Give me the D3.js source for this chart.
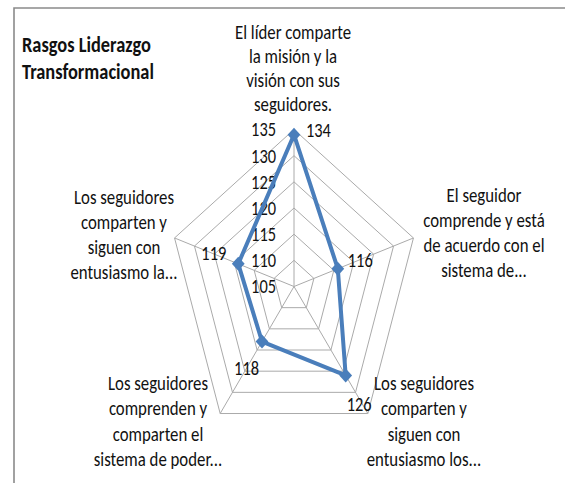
<!DOCTYPE html>
<html>
<head>
<meta charset="utf-8">
<script src="https://cdn.jsdelivr.net/npm/d3@7"></script>
<style>
  body { margin: 0; background: #fff; }
  svg text { font-family: Carlito, Lato, "Open Sans", sans-serif; fill: #111; }
</style>
</head>
<body>
<div id="chart"></div>
<script>
// Données
const categories = [
  ["El líder comparte", "la misión y la", "visión con sus", "seguidores."],
  ["El seguidor", "comprende y está", "de acuerdo con el", "sistema de..."],
  ["Los seguidores", "comparten y", "siguen con", "entusiasmo los..."],
  ["Los seguidores", "comprenden y", "comparten el", "sistema de poder..."],
  ["Los seguidores", "comparten y", "siguen con", "entusiasmo la..."]
];
const values = [134, 116, 126, 118, 119];
const ticks = [105, 110, 115, 120, 125, 130, 135];
const titleLines = ["Rasgos Liderazgo", "Transformacional"];

const width = 565;
const height = 483;
const sx = 0.8; // the picture is squeezed horizontally
const cx = 294 / sx;
const cy = 286.5;
const R = 157;

const svg = d3
  .select("#chart")
  .append("svg")
  .attr("width", width)
  .attr("height", height);

// cadre
svg
  .append("path")
  .attr("d", `M14,${height + 5}L14,8L${width + 5},8`)
  .attr("fill", "none")
  .attr("stroke", "#8a8a8a")
  .attr("stroke-width", 1.6);

const g = svg.append("g").attr("transform", `scale(${sx},1)`);

const r = d3.scaleLinear().domain([105, 135]).range([0, R]);
const angle = d3
  .scalePoint()
  .domain(d3.range(categories.length))
  .range([0, 2 * Math.PI * (1 - 1 / categories.length)]);

const pt = (i, v) => [
  cx + r(v) * Math.sin(angle(i)),
  cy - r(v) * Math.cos(angle(i))
];

// Grille
ticks.slice(1).forEach((t) => {
  g.append("path")
    .attr("d", d3.line()(d3.range(categories.length).map((i) => pt(i, t))) + "Z")
    .attr("fill", "none")
    .attr("stroke", "#aaaaaa")
    .attr("stroke-width", 1)
    .attr("vector-effect", "non-scaling-stroke");
});
d3.range(categories.length).forEach((i) => {
  const [x, y] = pt(i, 135);
  g.append("line")
    .attr("x1", cx)
    .attr("y1", cy)
    .attr("x2", x)
    .attr("y2", y)
    .attr("stroke", "#aaaaaa")
    .attr("stroke-width", 1)
    .attr("vector-effect", "non-scaling-stroke");
});

// Graduations
g.selectAll(".tick")
  .data(ticks)
  .enter()
  .append("text")
  .attr("class", "tick")
  .attr("x", 276 / sx)
  .attr("y", (d) => cy - r(d) + 7)
  .attr("text-anchor", "end")
  .style("font-size", "20.5px")
  .text((d) => d);

// Série
g.append("path")
  .attr("d", d3.line()(values.map((v, i) => pt(i, v))) + "Z")
  .attr("fill", "none")
  .attr("stroke", "#4a7ebb")
  .attr("stroke-width", 4)
  .attr("stroke-linejoin", "round")
  .attr("vector-effect", "non-scaling-stroke");

g.selectAll(".marker")
  .data(values)
  .enter()
  .append("path")
  .attr("class", "marker")
  .attr("transform", (d, i) => `translate(${pt(i, d)})`)
  .attr("d", "M0,-7L8,0L0,7L-8,0Z")
  .attr("fill", "#4a7ebb");

// Étiquettes de données (décalage en pixels)
const labelOffsets = [
  [12, 2, "start"],
  [10, -2, "start"],
  [1, 36, "start"],
  [-3, 33, "end"],
  [-12, -4, "end"]
];
g.selectAll(".dlabel")
  .data(values)
  .enter()
  .append("text")
  .attr("class", "dlabel")
  .attr("x", (d, i) => pt(i, d)[0] + labelOffsets[i][0] / sx)
  .attr("y", (d, i) => pt(i, d)[1] + labelOffsets[i][1])
  .attr("text-anchor", (d, i) => labelOffsets[i][2])
  .style("font-size", "20.5px")
  .text((d) => d);

// Libellés des axes
const catPos = [
  [293, 39, 24],
  [484, 202, 25],
  [424, 390, 25.5],
  [158, 390, 25.5],
  [124, 204, 25]
];
categories.forEach((lines, i) => {
  const t = g
    .append("text")
    .attr("text-anchor", "middle")
    .style("font-size", "21px");
  lines.forEach((line, k) => {
    t.append("tspan")
      .attr("x", catPos[i][0] / sx)
      .attr("y", catPos[i][1] + k * catPos[i][2])
      .text(line);
  });
});

// Titre
titleLines.forEach((line, k) => {
  g.append("text")
    .attr("x", 22 / sx)
    .attr("y", 52 + k * 27)
    .style("font-size", "23px")
    .style("font-weight", "bold")
    .text(line);
});
</script>
</body>
</html>
